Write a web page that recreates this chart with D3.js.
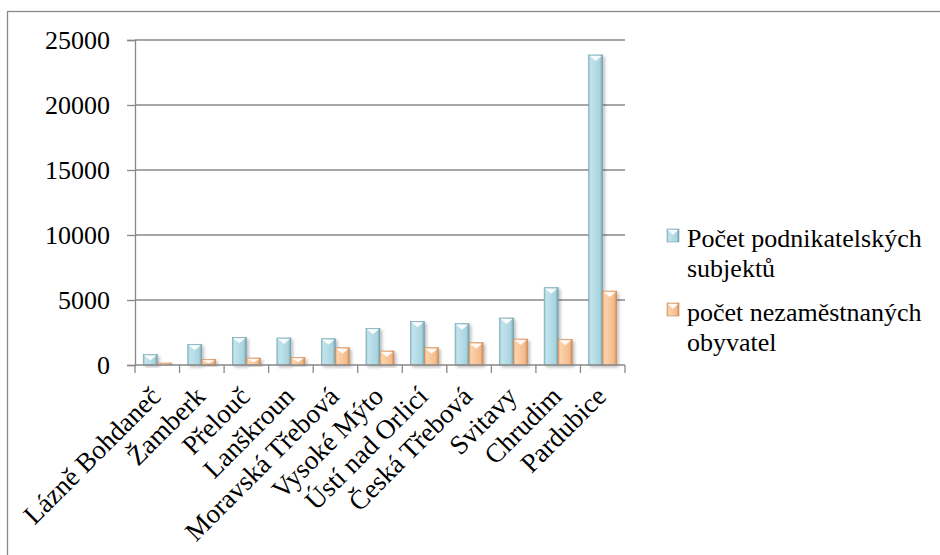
<!DOCTYPE html>
<html>
<head>
<meta charset="utf-8">
<script src="https://cdn.jsdelivr.net/npm/d3@7"></script>
<style>
  body { margin: 0; background: #fff; }
</style>
</head>
<body>
<script>
// Města a hodnoty
const cities = ["Lázně Bohdaneč", "Žamberk", "Přelouč", "Lanškroun", "Moravská Třebová",
  "Vysoké Mýto", "Ústí nad Orlicí", "Česká Třebová", "Svitavy", "Chrudim", "Pardubice"];
const podnikatele = [800, 1590, 2130, 2080, 2020, 2820, 3360, 3180, 3620, 5950, 23850];
const nezamestnani = [150, 440, 540, 590, 1330, 1080, 1330, 1720, 2000, 1980, 5690];
const seriesNames = ["Počet podnikatelských|subjektů", "počet nezaměstnaných|obyvatel"];
const yTicks = [0, 5000, 10000, 15000, 20000, 25000];

const width = 940, height = 555;
const margin = { left: 135, top: 40, right: 315, bottom: 190 };
const FONT = "'Liberation Serif', 'Times New Roman', serif";

const svg = d3.select("body").append("svg")
  .attr("width", width)
  .attr("height", height)
  .style("font-family", FONT);

const defs = svg.append("defs");
const palette = [
  { id: "gBlue", c0: "#93c3cf", c1: "#c2e4ec", c2: "#a9d4df", c3: "#729fac" },
  { id: "gOrange", c0: "#e8a874", c1: "#fcd3ab", c2: "#f5bb8c", c3: "#c98a58" }
];
palette.forEach(p => {
  const g = defs.append("linearGradient").attr("id", p.id)
    .attr("x1", "0").attr("x2", "1").attr("y1", "0").attr("y2", "0");
  g.append("stop").attr("offset", "0").attr("stop-color", p.c0);
  g.append("stop").attr("offset", "0.15").attr("stop-color", p.c1);
  g.append("stop").attr("offset", "0.8").attr("stop-color", p.c2);
  g.append("stop").attr("offset", "1").attr("stop-color", p.c3);
});
const shadow = defs.append("filter").attr("id", "shadow")
  .attr("x", "-30%").attr("y", "-10%").attr("width", "170%").attr("height", "130%");
shadow.append("feDropShadow").attr("dx", 2).attr("dy", 2).attr("stdDeviation", 1.5)
  .attr("flood-color", "#000").attr("flood-opacity", 0.25);

// Rámeček grafu
svg.append("rect")
  .attr("x", 7.5).attr("y", 11.5)
  .attr("width", 1000).attr("height", 1000)
  .attr("fill", "none").attr("stroke", "#888").attr("stroke-width", 1.3);

const x = d3.scaleBand()
  .domain(cities)
  .range([margin.left, width - margin.right])
  .paddingInner(0.37).paddingOuter(0.185);

const x1 = d3.scaleBand()
  .domain([0, 1])
  .range([0, x.bandwidth()]);

const y = d3.scaleLinear()
  .domain([0, 25000])
  .range([height - margin.bottom, margin.top]);

// Mřížka a osa Y
const yAxis = svg.append("g")
  .attr("transform", `translate(${margin.left},0)`)
  .call(d3.axisLeft(y).tickValues(yTicks).tickSize(8).tickPadding(17).tickFormat(d3.format("d")));
yAxis.attr("font-family", null).attr("font-size", null);
yAxis.select(".domain").attr("stroke", "#888").attr("stroke-width", 1.3);
yAxis.selectAll(".tick line").attr("stroke", "#888").attr("stroke-width", 1.3);
yAxis.selectAll(".tick text")
  .style("font-size", "26px")
  .style("font-family", FONT)
  .attr("fill", "#000")
  .attr("dy", "0.34em");

svg.append("g").selectAll("line")
  .data(yTicks.slice(1))
  .enter().append("line")
  .attr("x1", margin.left).attr("x2", width - margin.right)
  .attr("y1", d => y(d)).attr("y2", d => y(d))
  .attr("stroke", "#888").attr("stroke-width", 1.3);

// Sloupce
const rows = cities.map((c, i) => ({ city: c, vals: [podnikatele[i], nezamestnani[i]] }));
const groups = svg.append("g").selectAll("g")
  .data(rows)
  .enter().append("g")
  .attr("transform", d => `translate(${x(d.city)},0)`);

const bars = groups.selectAll("g.bar")
  .data(d => d.vals.map((v, k) => ({ v, k })))
  .enter().append("g").attr("class", "bar");

bars.append("rect")
  .attr("x", d => x1(d.k))
  .attr("y", d => y(d.v))
  .attr("width", x1.bandwidth())
  .attr("height", d => y(0) - y(d.v))
  .attr("fill", d => `url(#${palette[d.k].id})`)
  .attr("stroke", d => palette[d.k].c3)
  .attr("stroke-width", 0.6)
  .attr("filter", "url(#shadow)");

// Světlá zkosená hrana nahoře
bars.append("path")
  .attr("d", d => {
    const bw = x1.bandwidth();
    const x0 = x1(d.k) + 1, x2 = x1(d.k) + bw - 1;
    const t = y(d.v) + 1;
    const h = Math.min(5, (y(0) - y(d.v)) / 2);
    return `M${x0},${t}L${x2},${t}L${(x0 + x2) / 2},${t + h}Z`;
  })
  .attr("fill", "#fff")
  .attr("opacity", 0.9);

// Osa X
const xAxis = svg.append("g")
  .attr("transform", `translate(0,${y(0)})`)
  .call(d3.axisBottom(x).tickSize(0).tickPadding(0));
xAxis.attr("font-family", null).attr("font-size", null);
xAxis.select(".domain").remove();

const tickPos = d3.range(cities.length + 1).map(i => margin.left + i * (width - margin.left - margin.right) / cities.length);
svg.append("line")
  .attr("x1", margin.left).attr("x2", width - margin.right)
  .attr("y1", y(0)).attr("y2", y(0))
  .attr("stroke", "#888").attr("stroke-width", 1.3);
svg.append("g").selectAll("line")
  .data(tickPos)
  .enter().append("line")
  .attr("x1", d => d).attr("x2", d => d)
  .attr("y1", y(0)).attr("y2", y(0) + 8)
  .attr("stroke", "#888").attr("stroke-width", 1.3);

xAxis.selectAll(".tick text")
  .style("font-size", "27px")
  .style("font-family", FONT)
  .attr("fill", "#000")
  .attr("text-anchor", "end")
  .attr("y", 0)
  .attr("dy", 0)
  .attr("transform", "translate(5,33) rotate(-45)");

// Legenda
const legend = svg.append("g");
const legendY = [229, 303];
seriesNames.forEach((name, k) => {
  const lg = legend.append("g").attr("transform", `translate(667,${legendY[k]})`);
  lg.append("rect")
    .attr("x", 0).attr("y", 0).attr("width", 12).attr("height", 13)
    .attr("fill", `url(#${palette[k].id})`)
    .attr("stroke", palette[k].c3).attr("stroke-width", 0.6);
  lg.append("path")
    .attr("d", "M1,1L11,1L6,6Z").attr("fill", "#fff").attr("opacity", 0.9);
  const lines = name.split("|");
  lines.forEach((ln, j) => {
    lg.append("text")
      .attr("x", 20).attr("y", 18 + j * 29.5)
      .style("font-size", "26px")
      .style("font-family", FONT)
      .attr("fill", "#000")
      .text(ln);
  });
});
</script>
</body>
</html>
